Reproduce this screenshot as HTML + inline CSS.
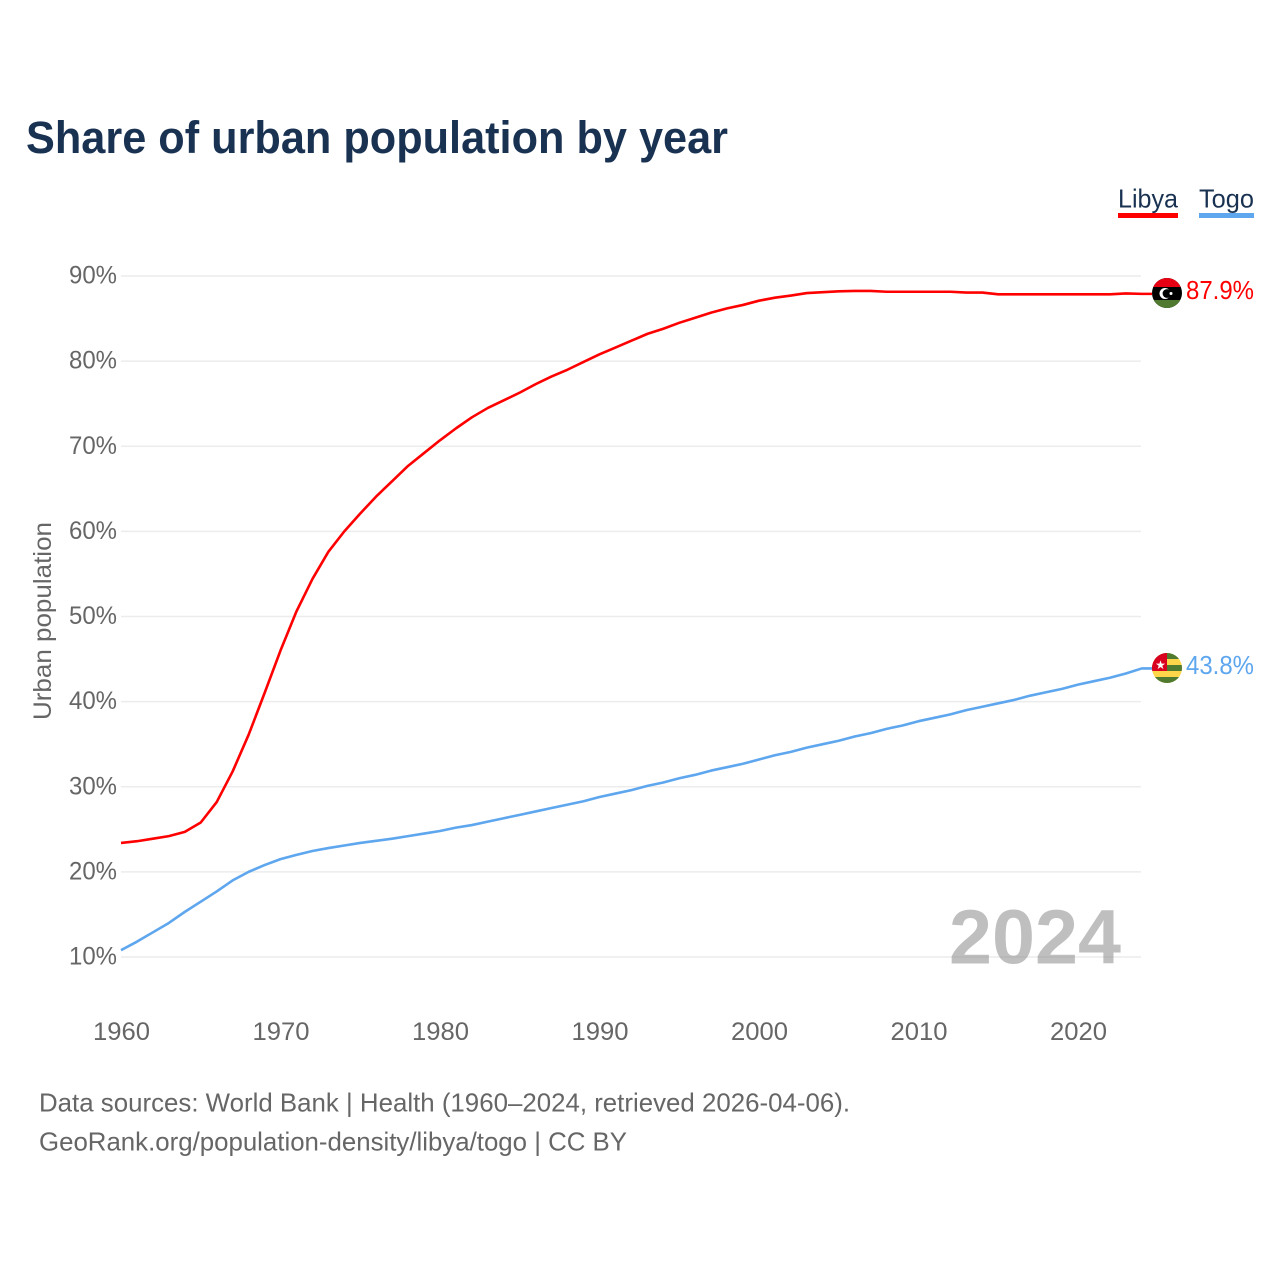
<!DOCTYPE html>
<html lang="en">
<head>
<meta charset="utf-8">
<title>Share of urban population by year</title>
<style>
html,body{margin:0;padding:0;background:#fff;width:1280px;height:1280px;overflow:hidden}
svg{display:block}
text{font-family:"Liberation Sans",sans-serif}
</style>
</head>
<body>
<svg id="chart" width="1280" height="1280" viewBox="0 0 1280 1280">
  <defs>
    <clipPath id="clip-libya"><circle cx="1167" cy="293" r="15"/></clipPath>
    <clipPath id="clip-togo"><circle cx="1167" cy="668" r="15"/></clipPath>
  </defs>
  <text x="26" y="153" font-size="45" font-weight="700" fill="#193252" textLength="702" lengthAdjust="spacingAndGlyphs">Share of urban population by year</text>

  <g>
    <text x="1118" y="207.500" font-size="26" fill="#193252" textLength="60" lengthAdjust="spacingAndGlyphs">Libya</text>
    <rect x="1118" y="213" width="60" height="5" fill="#ff0000"/>
  </g>
  <g>
    <text x="1199" y="207.500" font-size="26" fill="#193252" textLength="55" lengthAdjust="spacingAndGlyphs">Togo</text>
    <rect x="1199" y="213" width="55" height="5" fill="#5ea6ee"/>
  </g>

  <g id="grid"></g>
  <g id="y-ticks"></g>
  <g id="x-ticks"></g>
  <text transform="translate(51,621) rotate(-90)" text-anchor="middle" font-size="25" fill="#666666" textLength="198" lengthAdjust="spacingAndGlyphs">Urban population</text>

  <text x="949" y="963.500" font-size="77" font-weight="700" fill="#808080" fill-opacity="0.5" textLength="172" lengthAdjust="spacingAndGlyphs">2024</text>

  <g id="series"></g>

  <g clip-path="url(#clip-libya)">
    <rect x="1152" y="278" width="30" height="30" fill="#000000"/>
    <rect x="1152" y="278" width="30" height="9" fill="#e70013"/>
    <rect x="1152" y="300" width="30" height="8" fill="#4f7a30"/>
    <circle cx="1165" cy="293.500" r="5.500" fill="#ffffff"/>
    <circle cx="1167" cy="293.500" r="4.400" fill="#000000"/>
    <circle cx="1171" cy="293.500" r="1.500" fill="#ffffff"/>
  </g>
  <g clip-path="url(#clip-togo)">
    <rect x="1152" y="653" width="30" height="30" fill="#ffd54a"/>
    <rect x="1152" y="653" width="30" height="6" fill="#4f7a30"/>
    <rect x="1152" y="665" width="30" height="6" fill="#4f7a30"/>
    <rect x="1152" y="677" width="30" height="6" fill="#4f7a30"/>
    <rect x="1152" y="653" width="15" height="18" fill="#d9001f"/>
    <text x="1160.500" y="669" text-anchor="middle" font-size="12" fill="#ffffff">★</text>
  </g>

  <text x="1186" y="299" font-size="26" fill="#ff0000" textLength="68" lengthAdjust="spacingAndGlyphs">87.9%</text>
  <text x="1186" y="674" font-size="26" fill="#5ea6ee" textLength="68" lengthAdjust="spacingAndGlyphs">43.8%</text>

  <text x="39" y="1111.500" font-size="26" fill="#666666" textLength="811" lengthAdjust="spacingAndGlyphs">Data sources: World Bank | Health (1960–2024, retrieved 2026-04-06).</text>
  <text x="39" y="1150.500" font-size="26" fill="#666666" textLength="588" lengthAdjust="spacingAndGlyphs">GeoRank.org/population-density/libya/togo | CC BY</text>
</svg>
<script>
const years = [1960,1961,1962,1963,1964,1965,1966,1967,1968,1969,1970,1971,1972,1973,1974,1975,1976,1977,1978,1979,1980,1981,1982,1983,1984,1985,1986,1987,1988,1989,1990,1991,1992,1993,1994,1995,1996,1997,1998,1999,2000,2001,2002,2003,2004,2005,2006,2007,2008,2009,2010,2011,2012,2013,2014,2015,2016,2017,2018,2019,2020,2021,2022,2023,2024];
const libyaValues = [23.4,23.6,23.9,24.2,24.7,25.8,28.2,31.8,36.1,41,46,50.6,54.4,57.6,60,62.1,64.1,65.9,67.7,69.2,70.7,72.1,73.4,74.5,75.4,76.3,77.3,78.2,79,79.9,80.8,81.6,82.4,83.2,83.8,84.5,85.1,85.7,86.2,86.6,87.1,87.45,87.7,88,88.1,88.2,88.25,88.25,88.15,88.15,88.15,88.15,88.15,88.05,88.05,87.85,87.85,87.85,87.85,87.85,87.85,87.85,87.85,87.95,87.9];
const togoValues = [10.8,11.8,12.9,14,15.3,16.5,17.7,19,20,20.8,21.5,22,22.45,22.8,23.1,23.4,23.65,23.9,24.2,24.5,24.8,25.2,25.5,25.9,26.3,26.7,27.1,27.5,27.9,28.3,28.8,29.2,29.6,30.1,30.5,31,31.4,31.9,32.3,32.7,33.2,33.7,34.1,34.6,35,35.4,35.9,36.3,36.8,37.2,37.7,38.1,38.5,39,39.4,39.8,40.2,40.7,41.1,41.5,42,42.4,42.8,43.3,43.9];
const yTickValues = [10,20,30,40,50,60,70,80,90];
const xTickValues = [1960,1970,1980,1990,2000,2010,2020];

const NS = 'http://www.w3.org/2000/svg';
function xScale(year){ return 121 + (year - 1960) * 15.95; }
function yScale(value){ return 957 - (value - 10) * 8.5125; }
function make(tag, attrs, parent){
  const el = document.createElementNS(NS, tag);
  for (const k in attrs) el.setAttribute(k, attrs[k]);
  parent.appendChild(el);
  return el;
}

const gridGroup = document.getElementById('grid');
const yTickGroup = document.getElementById('y-ticks');
yTickValues.forEach(function(v){
  const line = make('line', {x1:121, x2:1141, y1:yScale(v), y2:yScale(v), stroke:'#ececec', 'stroke-width':1.5}, gridGroup);
  
  
  const label = make('text', {x:117, y:yScale(v) + 7.5, 'text-anchor':'end', 'font-size':25, fill:'#666666', textLength:48, lengthAdjust:'spacingAndGlyphs'}, yTickGroup);
  label.textContent = v + '%';
  
  
});

const xTickGroup = document.getElementById('x-ticks');
xTickValues.forEach(function(y){
  const label = make('text', {x:xScale(y) + 0.5, y:1040, 'text-anchor':'middle', 'font-size':25, fill:'#666666', textLength:57, lengthAdjust:'spacingAndGlyphs'}, xTickGroup);
  label.textContent = String(y);
  
  
});

const seriesGroup = document.getElementById('series');
function drawSeries(values, color, name){
  const pts = values.map(function(v, i){ return xScale(years[i]).toFixed(2) + ',' + yScale(v).toFixed(2); });
  const last = yScale(values[values.length - 1]).toFixed(2);
  pts.push('1152,' + last);
  const line = make('polyline', {points:pts.join(' '), fill:'none', stroke:color, 'stroke-width':2.6, 'stroke-linejoin':'round'}, seriesGroup);
  
  
}
drawSeries(libyaValues, '#ff0000', 'line-libya');
drawSeries(togoValues, '#5ea6ee', 'line-togo');
</script>
</body>
</html>
